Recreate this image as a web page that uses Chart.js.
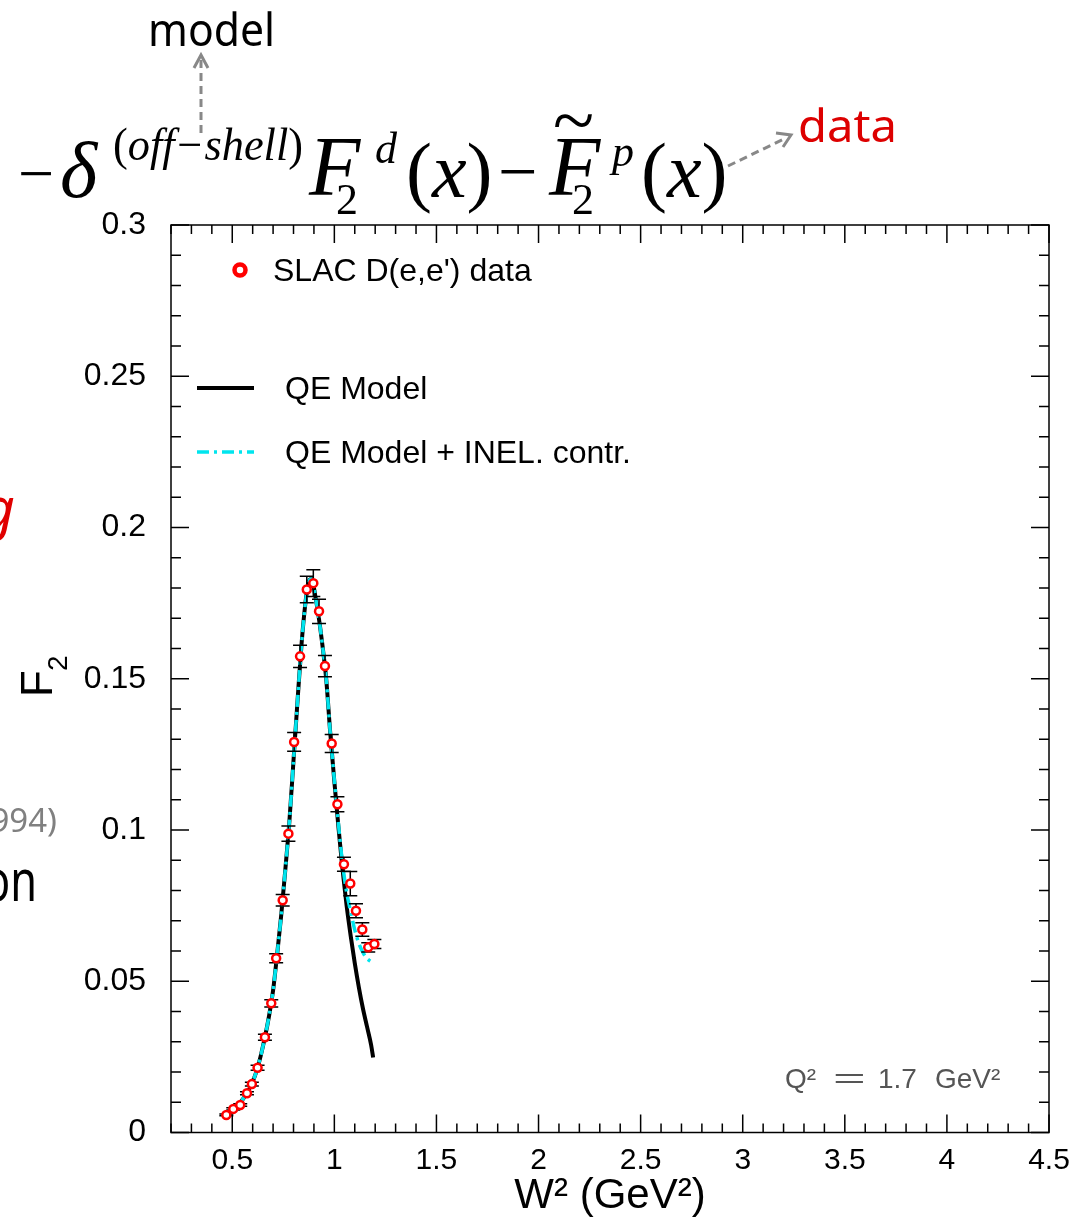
<!DOCTYPE html>
<html>
<head>
<meta charset="utf-8">
<script src="https://cdn.jsdelivr.net/npm/chart.js@4.4.1/dist/chart.umd.min.js"></script>
<style>
  html, body { margin:0; padding:0; background:#fff; width:1071px; height:1222px; overflow:hidden; }
  #wrap { position:relative; width:1071px; height:1222px; }
  #c { position:absolute; left:0; top:0; }
  #ann { position:absolute; left:0; top:0; pointer-events:none; }
</style>
</head>
<body>
<div id="wrap">
  <canvas id="c" width="1071" height="1222"></canvas>
  <svg id="ann" width="1071" height="1222" xmlns="http://www.w3.org/2000/svg">
    <!-- cropped slide fragments on the left -->
    <text x="15" y="528" text-anchor="end" font-family="Noto Sans" font-style="italic" font-size="56" fill="#e00000">ing</text>
    <text x="57" y="832" text-anchor="end" font-family="Noto Sans" font-size="33" fill="#808080">1994)</text>
    <text x="-16" y="901" font-family="Noto Sans" font-size="58" fill="#000" textLength="53" lengthAdjust="spacingAndGlyphs">on</text>

    <!-- "model" label and arrow -->
    <text x="148" y="46" font-family="Noto Sans" font-size="46" fill="#000" textLength="127" lengthAdjust="spacingAndGlyphs">model</text>
    <line x1="201" y1="133" x2="201" y2="60" stroke="#888" stroke-width="3" stroke-dasharray="8,5"/>
    <polyline points="194,68 201,55 208,68" fill="none" stroke="#888" stroke-width="3"/>

    <!-- "data" label and arrow -->
    <text x="798" y="142" font-family="Noto Sans" font-size="46" fill="#dd0000" textLength="99" lengthAdjust="spacingAndGlyphs">data</text>
    <line x1="728" y1="166" x2="786" y2="138" stroke="#888" stroke-width="3" stroke-dasharray="8,5"/>
    <polyline points="776,133 791,135 783,147" fill="none" stroke="#888" stroke-width="3"/>

    <!-- formula -->
    <g font-family="Liberation Serif" fill="#000">
      <text x="18" y="195" font-size="64">−</text>
      <text x="60" y="197" font-size="80" font-style="italic">δ</text>
      <text x="113" y="160" font-size="46" font-style="italic" textLength="190" lengthAdjust="spacingAndGlyphs"><tspan font-style="normal">(</tspan>off−shell<tspan font-style="normal">)</tspan></text>
      <text x="309" y="195" font-size="84" font-style="italic">F</text>
      <text x="336" y="214" font-size="44">2</text>
      <text x="375" y="163" font-size="44" font-style="italic">d</text>
      <text x="406" y="197" font-size="78"><tspan>(</tspan><tspan font-style="italic">x</tspan><tspan>)</tspan></text>
      <text x="498" y="195" font-size="70">−</text>
      <text x="549" y="195" font-size="84" font-style="italic">F</text>
      <text x="553" y="146" font-size="76">~</text>
      <text x="572" y="214" font-size="44">2</text>
      <text x="612" y="166" font-size="44" font-style="italic">p</text>
      <text x="641" y="197" font-size="78"><tspan>(</tspan><tspan font-style="italic">x</tspan><tspan>)</tspan></text>
    </g>
  </svg>
</div>
<script>
// ---------------- data ----------------
const W2 = [0.471, 0.505, 0.539, 0.572, 0.596, 0.624, 0.660, 0.691, 0.715, 0.747,
            0.775, 0.803, 0.832, 0.865, 0.897, 0.925, 0.954, 0.987, 1.015, 1.047,
            1.078, 1.106, 1.137, 1.166, 1.196];
const F2 = [0.0058, 0.0078, 0.0091, 0.0130, 0.0160, 0.0214, 0.0315, 0.0427, 0.0576, 0.0768,
            0.0988, 0.1291, 0.1574, 0.1795, 0.1816, 0.1723, 0.1542, 0.1286, 0.1085, 0.0887,
            0.0823, 0.0733, 0.0671, 0.0612, 0.0623];
const F2err = [0.0003, 0.0004, 0.0004, 0.0005, 0.0006, 0.0008, 0.0010, 0.0012, 0.0015, 0.0019,
               0.0025, 0.0031, 0.0037, 0.0044, 0.0044, 0.0040, 0.0035, 0.0030, 0.0025, 0.0023,
               0.0040, 0.0023, 0.0022, 0.0015, 0.0015];

const qeW2 = [0.46, 0.48, 0.50, 0.52, 0.54, 0.56, 0.58, 0.60, 0.62, 0.64, 0.66, 0.68, 0.70,
              0.72, 0.74, 0.76, 0.78, 0.80, 0.82, 0.84, 0.86, 0.87, 0.88, 0.89, 0.90, 0.91,
              0.92, 0.94, 0.96, 0.98, 1.00, 1.02, 1.04, 1.06, 1.08, 1.10, 1.12, 1.14, 1.16,
              1.18, 1.19];
const qeF2 = [0.0048, 0.0058, 0.0072, 0.0085, 0.0100, 0.0118, 0.0140, 0.0168, 0.0205, 0.0255,
              0.0315, 0.0385, 0.0470, 0.0590, 0.0720, 0.0870, 0.1030, 0.1230, 0.1430, 0.1620,
              0.1760, 0.1805, 0.1828, 0.1830, 0.1800, 0.1760, 0.1720, 0.1620, 0.1500, 0.1320,
              0.1160, 0.1010, 0.0870, 0.0750, 0.0650, 0.0560, 0.0480, 0.0410, 0.0350, 0.0290,
              0.0248];

const inelW2 = [0.46, 0.48, 0.50, 0.52, 0.54, 0.56, 0.58, 0.60, 0.62, 0.64, 0.66, 0.68, 0.70,
                0.72, 0.74, 0.76, 0.78, 0.80, 0.82, 0.84, 0.86, 0.87, 0.88, 0.89, 0.90, 0.91,
                0.92, 0.94, 0.96, 0.98, 1.00, 1.02, 1.04, 1.06, 1.08, 1.10, 1.12, 1.14, 1.16,
                1.18];
const inelF2 = [0.0048, 0.0058, 0.0072, 0.0085, 0.0100, 0.0118, 0.0140, 0.0168, 0.0205, 0.0255,
                0.0315, 0.0385, 0.0470, 0.0590, 0.0720, 0.0870, 0.1030, 0.1230, 0.1430, 0.1620,
                0.1760, 0.1805, 0.1828, 0.1830, 0.1800, 0.1760, 0.1720, 0.1620, 0.1500, 0.1320,
                0.1165, 0.1020, 0.0890, 0.0795, 0.0730, 0.0670, 0.0625, 0.0595, 0.0575, 0.0565];

const xTicks = [0.5, 1, 1.5, 2, 2.5, 3, 3.5, 4, 4.5];
const xTickLabels = ['0.5', '1', '1.5', '2', '2.5', '3', '3.5', '4', '4.5'];
const yTicks = [0, 0.05, 0.1, 0.15, 0.2, 0.25, 0.3];
const yTickLabels = ['0', '0.05', '0.1', '0.15', '0.2', '0.25', '0.3'];

const seriesNames = ["SLAC D(e,e') data", 'QE Model', 'QE Model + INEL. contr.'];
const xTitle = 'W² (GeV²)';
const yTitleMain = 'F';
const yTitleSub = '2';
const kinLabel = ['Q²', '=', '1.7', 'GeV²'];

// ---------------- styles ----------------
const RED = '#ff0000';
const CYAN = '#00e5ee';
const CYAN_DASH = [12, 5, 3, 5];
const FONT = 'Liberation Sans, Arial, Helvetica, sans-serif';

Chart.defaults.font.family = FONT;

function labelFor(list, labels, v) {
  const i = list.findIndex(t => Math.abs(t - v) < 1e-9);
  return i >= 0 ? labels[i] : '';
}

const framePlugin = {
  id: 'frame',
  beforeDatasetsDraw(chart) {
    const {ctx, chartArea: a, scales: {x, y}} = chart;
    ctx.save();
    ctx.strokeStyle = '#000';
    ctx.lineWidth = 1.5;
    ctx.strokeRect(a.left, a.top, a.right - a.left, a.bottom - a.top);
    ctx.beginPath();
    for (let k = Math.round(x.min * 10); k <= Math.round(x.max * 10); k++) {
      const px = x.getPixelForValue(k / 10);
      const L = (k % 5 === 0) ? 18 : 9;
      ctx.moveTo(px, a.bottom); ctx.lineTo(px, a.bottom - L);
      ctx.moveTo(px, a.top); ctx.lineTo(px, a.top + L);
    }
    for (let k = Math.round(y.min * 100); k <= Math.round(y.max * 100); k++) {
      const py = y.getPixelForValue(k / 100);
      const L = (k % 5 === 0) ? 18 : 10;
      ctx.moveTo(a.left, py); ctx.lineTo(a.left + L, py);
      ctx.moveTo(a.right, py); ctx.lineTo(a.right - L, py);
    }
    ctx.stroke();
    ctx.restore();
  }
};

const errPlugin = {
  id: 'errbars',
  beforeDatasetDraw(chart, args) {
    if (args.index !== 0) return;
    const {ctx, scales: {x, y}} = chart;
    ctx.save();
    ctx.strokeStyle = '#000';
    ctx.lineWidth = 1.5;
    ctx.beginPath();
    W2.forEach((w, i) => {
      const px = x.getPixelForValue(w);
      const y1 = y.getPixelForValue(F2[i] - F2err[i]);
      const y2 = y.getPixelForValue(F2[i] + F2err[i]);
      ctx.moveTo(px, y1); ctx.lineTo(px, y2);
      ctx.moveTo(px - 7, y1); ctx.lineTo(px + 7, y1);
      ctx.moveTo(px - 7, y2); ctx.lineTo(px + 7, y2);
    });
    ctx.stroke();
    ctx.restore();
  }
};

const annPlugin = {
  id: 'ann',
  afterDraw(chart) {
    const {ctx} = chart;
    ctx.save();
    // legend
    ctx.textBaseline = 'middle';
    ctx.textAlign = 'left';
    ctx.font = '32px ' + FONT;
    ctx.beginPath();
    ctx.arc(240, 270, 5.5, 0, Math.PI * 2);
    ctx.fillStyle = '#fff'; ctx.fill();
    ctx.lineWidth = 4.5; ctx.strokeStyle = RED; ctx.stroke();
    ctx.fillStyle = '#000';
    ctx.fillText(seriesNames[0], 273, 272);

    ctx.beginPath();
    ctx.moveTo(197, 388); ctx.lineTo(254, 388);
    ctx.lineWidth = 4; ctx.strokeStyle = '#000'; ctx.stroke();
    ctx.fillText(seriesNames[1], 285, 390);

    ctx.beginPath();
    ctx.setLineDash(CYAN_DASH);
    ctx.moveTo(197, 452); ctx.lineTo(254, 452);
    ctx.lineWidth = 3.5; ctx.strokeStyle = CYAN; ctx.stroke();
    ctx.setLineDash([]);
    ctx.fillText(seriesNames[2], 285, 454);

    // kinematics label
    ctx.fillStyle = '#555';
    ctx.font = '28px ' + FONT;
    ctx.textBaseline = 'alphabetic';
    ctx.fillText(kinLabel[0], 785, 1088);
    ctx.save();
    ctx.translate(833, 1088);
    ctx.scale(2.0, 1);
    ctx.fillText(kinLabel[1], 0, 0);
    ctx.restore();
    ctx.fillText(kinLabel[2], 878, 1088);
    ctx.fillText(kinLabel[3], 935, 1088);

    // y axis title  F_2 (rotated)
    ctx.fillStyle = '#000';
    ctx.translate(52, 697);
    ctx.rotate(-Math.PI / 2);
    ctx.textAlign = 'left';
    ctx.font = '44px ' + FONT;
    ctx.fillText(yTitleMain, 0, 0);
    ctx.font = '28px ' + FONT;
    ctx.fillText(yTitleSub, 26, 15);
    ctx.restore();
  }
};

new Chart(document.getElementById('c'), {
  type: 'scatter',
  data: {
    datasets: [
      {
        label: seriesNames[0],
        data: W2.map((w, i) => ({x: w, y: F2[i]})),
        showLine: false,
        pointRadius: 4,
        pointHoverRadius: 4,
        pointBorderWidth: 2.5,
        pointBorderColor: RED,
        pointBackgroundColor: '#fff'
      },
      {
        label: seriesNames[2],
        data: inelW2.map((w, i) => ({x: w, y: inelF2[i]})),
        showLine: true,
        borderColor: CYAN,
        borderWidth: 3.5,
        borderDash: CYAN_DASH,
        pointRadius: 0,
        cubicInterpolationMode: 'monotone'
      },
      {
        label: seriesNames[1],
        data: qeW2.map((w, i) => ({x: w, y: qeF2[i]})),
        showLine: true,
        borderColor: '#000',
        borderWidth: 4,
        pointRadius: 0,
        cubicInterpolationMode: 'monotone'
      }
    ]
  },
  options: {
    responsive: false,
    animation: false,
    devicePixelRatio: 1,
    layout: {padding: {top: 225, right: 22, left: 0, bottom: 0}},
    plugins: {legend: {display: false}, tooltip: {enabled: false}},
    scales: {
      x: {
        type: 'linear', min: 0.2, max: 4.5,
        grid: {display: false}, border: {display: false},
        afterBuildTicks: s => { s.ticks = xTicks.map(v => ({value: v})); },
        ticks: {
          autoSkip: false, maxRotation: 0, minRotation: 0, padding: 2, color: '#000',
          font: {size: 30},
          callback: v => labelFor(xTicks, xTickLabels, v)
        },
        title: {display: true, text: xTitle, color: '#000', font: {size: 42, lineHeight: 1.2}, padding: {top: 0, bottom: 0}},
        afterFit: s => { s.height = 89.5; s.paddingLeft = 0; s.paddingRight = 0; }
      },
      y: {
        type: 'linear', min: 0, max: 0.3,
        grid: {display: false}, border: {display: false},
        afterBuildTicks: s => { s.ticks = yTicks.map(v => ({value: v})); },
        ticks: {
          autoSkip: false, padding: 17, color: '#000',
          font: {size: 32},
          callback: v => labelFor(yTicks, yTickLabels, v)
        },
        afterFit: s => { s.width = 171; s.paddingTop = 0; s.paddingBottom = 0; }
      }
    }
  },
  plugins: [framePlugin, errPlugin, annPlugin]
});
</script>
</body>
</html>
